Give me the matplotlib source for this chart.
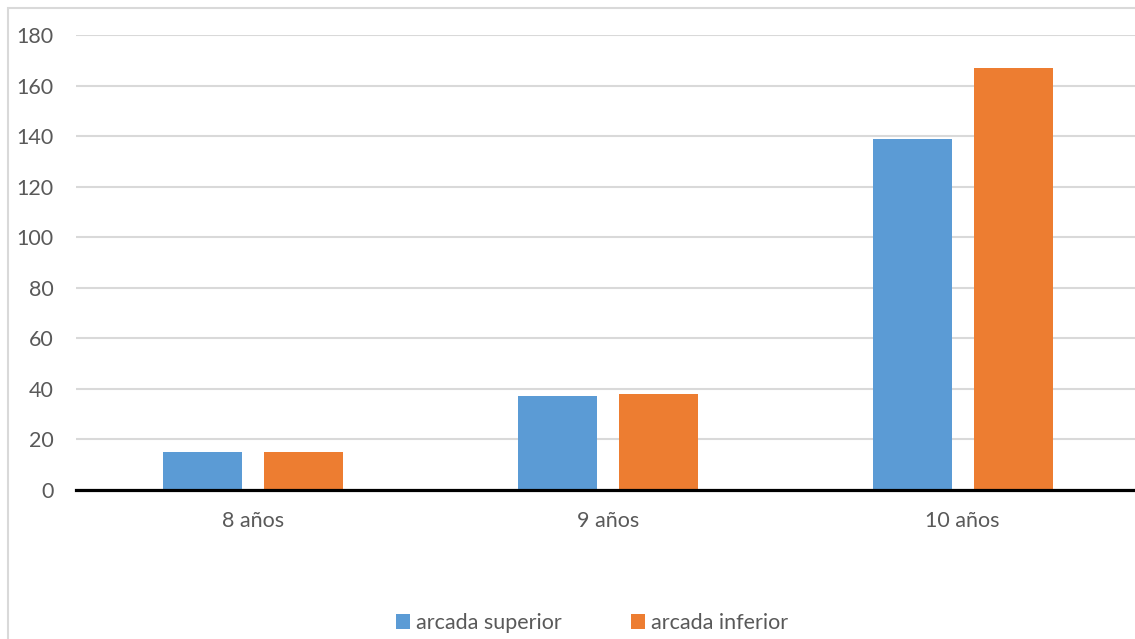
import matplotlib
matplotlib.use("Agg")
from matplotlib import pyplot as plt
from matplotlib.patches import Rectangle
import numpy as np

edades = ["8 años", "9 años", "10 años"]
superior = [15, 37, 139]
inferior = [15, 38, 167]
yticks = [0, 20, 40, 60, 80, 100, 120, 140, 160, 180]

plt.rcParams['font.family'] = ['Lato', 'DejaVu Sans']
gris = "#595959"

fig = plt.figure(figsize=(11.35, 6.39), dpi=100)
# marco del gráfico
fig.patches.append(Rectangle((8 / 1135, -0.1), 1.2, (639 - 8) / 639 + 0.1,
                             transform=fig.transFigure, fill=False,
                             edgecolor="#d9d9d9", linewidth=1.5))

ax = fig.add_axes([76 / 1135, 149 / 639, 1064 / 1135, 455 / 639])
x = np.arange(len(edades))
w = 0.223
ax.bar(x - 0.1425, superior, w, color="#5B9BD5", label="arcada superior", zorder=3)
ax.bar(x + 0.1425, inferior, w, color="#ED7D31", label="arcada inferior", zorder=3)

ax.set_xlim(-0.5, 2.5)
ax.set_ylim(0, 180)
ax.set_yticks(yticks)
ax.set_xticks(x)
ax.set_xticklabels(edades)
ax.grid(axis="y", color="#d9d9d9", linewidth=1.5, zorder=0)
ax.axhline(0, color="black", linewidth=2.3, zorder=4, clip_on=False)
for s in ax.spines.values():
    s.set_visible(False)
ax.tick_params(length=0, colors=gris, labelsize=15.5)
ax.tick_params(axis="y", pad=16)
ax.tick_params(axis="x", pad=15)

fig.legend(loc="center", bbox_to_anchor=(592 / 1135, 1 - 623 / 639), ncol=2,
           frameon=False, fontsize=15.5, labelcolor=gris, handlelength=0.65,
           handleheight=0.65, handletextpad=0.3, columnspacing=3.2)

fig.savefig("out.png", dpi=100)
